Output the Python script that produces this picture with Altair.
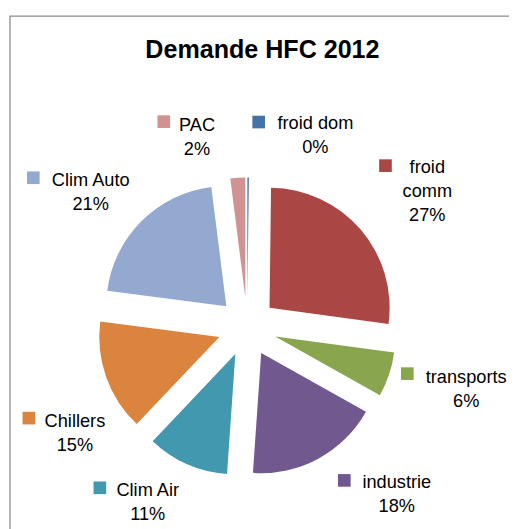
import altair as alt
import pandas as pd

# ---- data ----
categories = ["froid dom", "froid comm", "transports", "industrie",
              "Clim Air", "Chillers", "Clim Auto", "PAC"]
values = [0.2, 27, 6, 18, 11, 15, 21, 2]
label_names = ["froid dom", "froid|comm", "transports", "industrie",
               "Clim Air", "Chillers", "Clim Auto", "PAC"]
colors = ["#4572A7", "#AA4643", "#89A54E", "#71588F",
          "#4198AF", "#DB843D", "#93A9CF", "#D19392"]
title_text = "Demande HFC 2012"

# ---- layout (pixels in the plot area) ----
W, H = 509, 521
CX, CY = 243, 320          # pie centre
R = 122                    # pie radius
EXPLODE = 30               # explosion distance
# label anchor: text centre x, first baseline y ; legend-key square centre
label_x = [312.3, 426, 465.5, 395, 142, 68, 84, 192]
label_y = [118.7, 163, 377, 483, 492, 421.3, 177, 120.3]
key_x = [254.7, 383.5, 405.7, 341.7, 93.3, 21.2, 25.7, 158.3]
key_y = [111.7, 156, 367.3, 475.8, 483.3, 412.5, 168.3, 111.3]

df = pd.DataFrame({
    "category": categories,
    "value": values,
    "name": label_names,
    "order": list(range(len(categories))),
    "lx": label_x, "ly": label_y, "kx": key_x, "ky": key_y,
})

color_scale = alt.Scale(domain=categories, range=colors)

base = alt.Chart(df).transform_joinaggregate(
    total="sum(value)"
).transform_window(
    cum="sum(value)", sort=[alt.SortField("order")], frame=[None, 0]
).transform_calculate(
    t0="(datum.cum - datum.value) / datum.total * 2 * PI",
    t1="datum.cum / datum.total * 2 * PI",
).transform_calculate(
    mid="(datum.t0 + datum.t1) / 2",
).transform_calculate(
    cx=f"{CX} + {EXPLODE} * sin(datum.mid)",
    cy=f"{CY} - {EXPLODE} * cos(datum.mid)",
    lines="split(datum.name + '|' + format(datum.value / datum.total, '.0%'), '|')",
)

pie = base.mark_arc(radius=R).encode(
    theta=alt.Theta("t0:Q", scale=None),
    theta2="t1:Q",
    x=alt.X("cx:Q", scale=None),
    y=alt.Y("cy:Q", scale=None),
    color=alt.Color("category:N", scale=color_scale, legend=None),
)

labels = base.mark_text(
    font="Liberation Sans", fontSize=18.5, align="center",
    baseline="alphabetic", lineHeight=24.5, color="#000000",
).encode(
    x=alt.X("lx:Q", scale=None),
    y=alt.Y("ly:Q", scale=None),
    text=alt.Text("lines:N"),
)

keys = base.mark_point(shape="square", filled=True, size=165, opacity=1).encode(
    x=alt.X("kx:Q", scale=None),
    y=alt.Y("ky:Q", scale=None),
    color=alt.Color("category:N", scale=color_scale, legend=None),
)

title = alt.Chart(pd.DataFrame({"t": [title_text]})).mark_text(
    font="Liberation Sans", fontSize=25.5, fontWeight="bold",
    align="center", baseline="alphabetic", color="#000000",
).encode(
    x=alt.value(258.5), y=alt.value(47), text="t:N",
)

frame = alt.Chart(pd.DataFrame({"a": [0]})).mark_rect(
    fillOpacity=0, stroke="#8c8c8c", strokeWidth=1.3,
).encode(
    x=alt.value(2), y=alt.value(4), x2=alt.value(800), y2=alt.value(800),
)

chart = alt.layer(frame, pie, keys, labels, title).properties(
    width=W, height=H,
    autosize=alt.AutoSizeParams(type="none"),
    padding=0,
).configure_view(stroke=None)

chart.save("out.html", embed_options={"renderer": "svg", "actions": False})
